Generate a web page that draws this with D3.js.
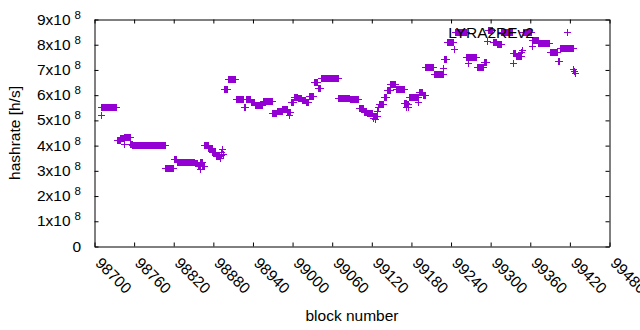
<!DOCTYPE html>
<html>
<head>
<meta charset="utf-8">
<script src="https://cdn.jsdelivr.net/npm/d3@7"></script>
<style>
  body { margin: 0; background: #fff; }
  text { font-family: "Liberation Sans", Arial, sans-serif; fill: #000; }
</style>
</head>
<body>
<svg id="chart" width="640" height="330"></svg>
<script>
// hashrate estimate per block: runs of blocks sharing the same value
var runStart = [98710, 98711, 98735, 98740, 98745, 98746, 98755, 98758, 98808, 98821,
                98825, 98853, 98857, 98860, 98861, 98864, 98867, 98873, 98879, 98885,
                98891, 98892, 98893, 98894, 98895, 98897, 98903, 98915, 98927, 98930,
                98938, 98944, 98956, 98970, 98977, 98985, 98993, 98995, 98996, 98998,
                99003, 99009, 99015, 99021, 99025, 99033, 99039, 99044, 99070, 99087,
                99101, 99109, 99113, 99122, 99123, 99125, 99126, 99129, 99130, 99131,
                99139, 99144, 99149, 99157, 99170, 99173, 99174, 99176, 99177, 99191,
                99192, 99198, 99202, 99215, 99229, 99230, 99234, 99245, 99246, 99264,
                99267, 99268, 99280, 99290, 99295, 99296, 99304, 99310, 99317, 99334,
                99335, 99339, 99347, 99348, 99349, 99363, 99364, 99373, 99390, 99402,
                99406, 99426, 99427, 99428];
var runEnd   = [98710, 98734, 98739, 98744, 98745, 98754, 98757, 98807, 98820, 98824,
                98852, 98856, 98859, 98860, 98863, 98866, 98872, 98878, 98884, 98890,
                98891, 98892, 98893, 98894, 98896, 98902, 98914, 98926, 98929, 98937,
                98943, 98955, 98969, 98976, 98984, 98992, 98994, 98995, 98997, 99002,
                99008, 99014, 99020, 99024, 99032, 99038, 99043, 99069, 99086, 99100,
                99108, 99112, 99121, 99122, 99124, 99125, 99128, 99129, 99130, 99138,
                99143, 99148, 99156, 99169, 99172, 99173, 99175, 99176, 99190, 99191,
                99197, 99201, 99214, 99228, 99229, 99233, 99244, 99245, 99263, 99266,
                99267, 99279, 99289, 99294, 99295, 99303, 99309, 99316, 99333, 99334,
                99338, 99346, 99347, 99348, 99362, 99363, 99372, 99389, 99401, 99405,
                99425, 99426, 99427, 99428];
var runRate  = [5.18e8, 5.50e8, 4.22e8, 4.30e8, 4.04e8, 4.32e8, 4.06e8, 3.99e8, 3.08e8, 3.44e8,
                3.33e8, 3.28e8, 3.21e8, 3.04e8, 3.35e8, 3.16e8, 4.02e8, 3.87e8, 3.72e8, 3.58e8,
                3.47e8, 3.62e8, 3.72e8, 3.85e8, 3.63e8, 6.22e8, 6.61e8, 5.83e8, 5.52e8, 5.83e8,
                5.70e8, 5.58e8, 5.74e8, 5.28e8, 5.34e8, 5.42e8, 5.30e8, 5.18e8, 5.30e8, 5.70e8,
                5.92e8, 5.86e8, 5.80e8, 5.72e8, 5.95e8, 6.50e8, 6.25e8, 6.68e8, 5.88e8, 5.82e8,
                5.46e8, 5.33e8, 5.27e8, 5.08e8, 5.15e8, 5.05e8, 5.15e8, 5.35e8, 5.50e8, 5.62e8,
                5.90e8, 6.20e8, 6.42e8, 6.22e8, 5.65e8, 5.52e8, 5.62e8, 5.50e8, 5.91e8, 5.72e8,
                6.10e8, 6.00e8, 7.08e8, 6.80e8, 7.05e8, 7.40e8, 8.09e8, 7.81e8, 8.50e8, 7.50e8,
                7.27e8, 7.50e8, 7.11e8, 7.31e8, 8.12e8, 8.55e8, 8.10e8, 8.02e8, 8.49e8, 7.27e8,
                7.65e8, 7.52e8, 7.70e8, 7.77e8, 8.47e8, 7.94e8, 8.16e8, 8.04e8, 7.71e8, 7.33e8,
                7.84e8, 7.02e8, 6.93e8, 6.85e8];

var seriesName = "LYRA2REv2";
var xTickValues = [98700, 98760, 98820, 98880, 98940, 99000, 99060, 99120,
                   99180, 99240, 99300, 99360, 99420, 99480];
var yTickValues = [0, 1e8, 2e8, 3e8, 4e8, 5e8, 6e8, 7e8, 8e8, 9e8];

(function() {
    var plotLeft = 94.5, plotRight = 609.5, plotTop = 19.5, plotBottom = 246.5;
    var color = "#9400d3";

    var svg = d3.select("#chart");

    var x = d3.scaleLinear().domain([98700, 99480]).range([plotLeft, plotRight]);
    var y = d3.scaleLinear().domain([0, 9e8]).range([plotBottom, plotTop]);

    var plus = "M-3.5,0H3.5M0,-3.5V3.5";

    // one point per block
    var points = [];
    runStart.forEach(function(s, i) {
        d3.range(s, runEnd[i] + 1).forEach(function(b) {
            points.push({block: b, rate: runRate[i]});
        });
    });

    svg.append("g")
        .attr("fill", "none")
        .attr("stroke", color)
        .attr("stroke-width", 1)
        .attr("shape-rendering", "crispEdges")
      .selectAll("path")
      .data(points)
      .enter().append("path")
        .attr("transform", d => "translate(" + x(d.block) + "," + y(d.rate) + ")")
        .attr("d", plus);

    // key, text on top of the points
    svg.append("text")
        .attr("x", 534)
        .attr("y", 37.5)
        .attr("text-anchor", "end")
        .attr("font-size", "15.5px")
        .text(seriesName);
    svg.append("path")
        .attr("transform", "translate(567,32.5)")
        .attr("d", plus)
        .attr("fill", "none")
        .attr("stroke", color)
        .attr("shape-rendering", "crispEdges");

    // border + inward ticks on all four sides
    function styleAxis(g) {
        g.selectAll("path, line").attr("stroke", "#000").attr("stroke-width", 1);
        g.selectAll("text").remove();
    }
    svg.append("g").attr("transform", "translate(0," + plotBottom + ")")
        .call(d3.axisBottom(x).tickValues(xTickValues).tickSizeInner(-4).tickSizeOuter(0))
        .call(styleAxis);
    svg.append("g").attr("transform", "translate(0," + plotTop + ")")
        .call(d3.axisTop(x).tickValues(xTickValues).tickSizeInner(-4).tickSizeOuter(0))
        .call(styleAxis);
    svg.append("g").attr("transform", "translate(" + plotLeft + ",0)")
        .call(d3.axisLeft(y).tickValues(yTickValues).tickSizeInner(-4).tickSizeOuter(0))
        .call(styleAxis);
    svg.append("g").attr("transform", "translate(" + plotRight + ",0)")
        .call(d3.axisRight(y).tickValues(yTickValues).tickSizeInner(-4).tickSizeOuter(0))
        .call(styleAxis);

    // x tick labels, rotated
    svg.append("g").selectAll("text")
        .data(xTickValues)
        .enter().append("text")
        .attr("transform", d => "translate(" + x(d) + ",264) rotate(45)")
        .attr("font-size", "15.5px")
        .text(d => d);

    // y tick labels  Nx10^8
    var ylab = svg.append("g").selectAll("text")
        .data(yTickValues)
        .enter().append("text")
        .attr("x", 81)
        .attr("y", d => y(d) + 5)
        .attr("text-anchor", "end")
        .attr("font-size", "15.5px");
    ylab.filter(d => d === 0).text("0");
    ylab.filter(d => d !== 0).each(function(d) {
        var t = d3.select(this);
        t.append("tspan").text((d / 1e8) + "x10");
        t.append("tspan").attr("dx", 4).attr("dy", -6).attr("font-size", "11.5px").text("8");
    });

    // axis titles
    svg.append("text")
        .attr("transform", "translate(20," + ((plotTop + plotBottom) / 2) + ") rotate(-90)")
        .attr("text-anchor", "middle")
        .attr("font-size", "15.5px")
        .text("hashrate [h/s]");

    svg.append("text")
        .attr("x", (plotLeft + plotRight) / 2)
        .attr("y", 321)
        .attr("text-anchor", "middle")
        .attr("font-size", "15.5px")
        .text("block number");
})();
</script>
</body>
</html>
